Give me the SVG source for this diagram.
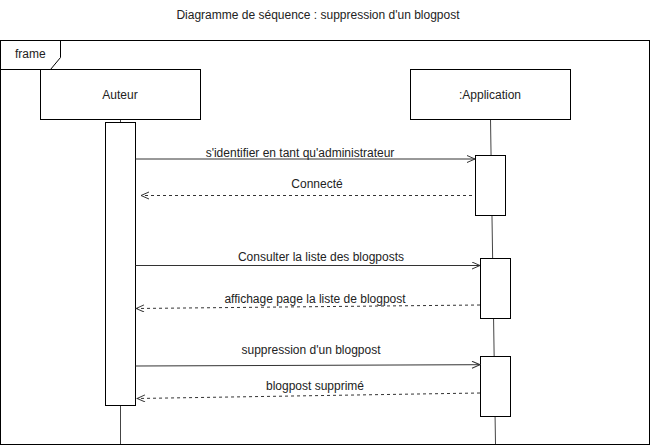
<svg xmlns="http://www.w3.org/2000/svg" width="651" height="447" viewBox="0 0 651 447">
<defs>
<style>
text{font-family:"Liberation Sans",Arial,sans-serif;font-size:12px;fill:#222}
.box{fill:#fff;stroke:#000;stroke-width:1}
.life{stroke:#444;stroke-width:1;fill:none}
.msg{stroke:#333;stroke-width:1;fill:none}
.ret{stroke:#333;stroke-width:1;fill:none;stroke-dasharray:3 3}
</style>
<marker id="open" markerWidth="10" markerHeight="10" refX="9" refY="4" orient="auto" markerUnits="userSpaceOnUse">
<path d="M1,0.5 L9,4 L1,7.5" fill="none" stroke="#333" stroke-width="1"/>
</marker>
</defs>
<rect width="651" height="447" fill="#fff"/>
<text x="318" y="19" text-anchor="middle">Diagramme de séquence : suppression d'un blogpost</text>
<g id="frame">
<rect x="0.5" y="40.5" width="649" height="404" fill="none" stroke="#000"/>
<path d="M0.5,69.5 H50.5 L60.5,57.5 V40.5" fill="none" stroke="#000"/>
<text x="15" y="58">frame</text>
</g>
<g id="lifelines">
<line class="life" x1="120.5" y1="119" x2="120.5" y2="444"/>
<line class="life" x1="490.5" y1="119" x2="495.5" y2="444"/>
</g>
<g id="auteur">
<rect class="box" x="40.5" y="69.5" width="160" height="50"/>
<text x="120" y="99" text-anchor="middle">Auteur</text>
</g>
<g id="application">
<rect class="box" x="410.5" y="69.5" width="160" height="50"/>
<text x="490" y="99" text-anchor="middle">:Application</text>
</g>
<g id="activations">
<rect class="box" x="105.5" y="122.5" width="30" height="283"/>
<rect class="box" x="475.5" y="155.5" width="30" height="60"/>
<rect class="box" x="480.5" y="258.5" width="30" height="60"/>
<rect class="box" x="480.5" y="356.5" width="30" height="60"/>
</g>
<g id="connectors">
<line class="msg" x1="135.5" y1="159" x2="475" y2="159" marker-end="url(#open)"/>
<line class="ret" x1="472" y1="195.5" x2="141" y2="195.5" marker-end="url(#open)"/>
<line class="msg" x1="135.5" y1="265.5" x2="480" y2="265.5" marker-end="url(#open)"/>
<line class="ret" x1="480" y1="305" x2="136" y2="308.5" marker-end="url(#open)"/>
<line class="msg" x1="135.5" y1="366" x2="480" y2="364.7" marker-end="url(#open)"/>
<line class="ret" x1="480" y1="393" x2="137" y2="398.5" marker-end="url(#open)"/>
</g>
<g id="labels">
<text x="300" y="157" text-anchor="middle">s'identifier en tant qu'administrateur</text>
<text x="317" y="188" text-anchor="middle">Connecté</text>
<text x="321" y="261" text-anchor="middle">Consulter la liste des blogposts</text>
<text x="315" y="303" text-anchor="middle">affichage page la liste de blogpost</text>
<text x="311" y="354" text-anchor="middle">suppression d'un blogpost</text>
<text x="315" y="390" text-anchor="middle">blogpost supprimé</text>
</g>
</svg>
